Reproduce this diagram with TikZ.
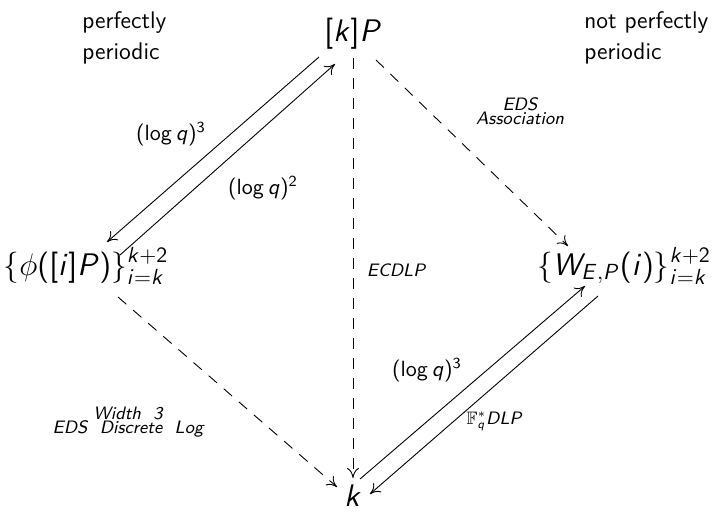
\RequirePackage{fix-cm}
\documentclass[tikz,border=0pt]{standalone}
\usepackage{amssymb}
\usetikzlibrary{arrows.meta}
\renewcommand{\familydefault}{\sfdefault}
\DeclareSymbolFont{sflet}{OT1}{cmss}{m}{sl}
\SetSymbolFont{operators}{normal}{OT1}{cmss}{m}{n}
\DeclareMathSymbol{k}{\mathalpha}{sflet}{`k}
\DeclareMathSymbol{i}{\mathalpha}{sflet}{`i}
\DeclareMathSymbol{q}{\mathalpha}{sflet}{`q}
\DeclareMathSymbol{P}{\mathalpha}{sflet}{`P}
\DeclareMathSymbol{E}{\mathalpha}{sflet}{`E}
\DeclareMathSymbol{W}{\mathalpha}{sflet}{`W}
\tikzset{
  mainnode/.style={inner sep=1pt, font=\fontsize{15.6}{18}\selectfont},
  plaintext/.style={inner sep=1pt, font=\fontsize{12}{14}\selectfont, align=left},
  lbl/.style={inner sep=1pt, font=\fontsize{11}{13}\selectfont},
  itlbl/.style={inner sep=1pt, font=\fontsize{9}{10}\selectfont\slshape, align=center},
  arr/.style={-{To[length=5pt,width=6pt]}, line width=0.45pt},
  darr/.style={arr, dash pattern=on 5.5pt off 4.5pt}
}
\begin{document}
\begin{tikzpicture}[x=0.5pt,y=-0.5pt]
\useasboundingbox (0,0) rectangle (712,516);
% texts
\node[plaintext, anchor=west] (pp1) at (80,22) {perfectly};
\node[plaintext, anchor=west] (pp2) at (80,53) {periodic};
\node[plaintext, anchor=west] (np1) at (582,22) {not perfectly};
\node[plaintext, anchor=west] (np2) at (582,53) {periodic};
% main nodes
\node[mainnode] (kP) at (353,34) {$[k]P$};
\node[mainnode] (L) at (86,266) {$\{\phi([i]P)\}_{i=k}^{k+2}$};
\node[mainnode] (R) at (624,266) {$\{W_{E,P}(i)\}_{i=k}^{k+2}$};
\node[mainnode] (k) at (353,496) {$k$};
% coordinates for arrow ends
\coordinate (a1) at (319,57);
\coordinate (a2) at (107,242);
\coordinate (b1) at (120,255);
\coordinate (b2) at (335,64);
\coordinate (c1) at (360,479);
\coordinate (c2) at (585,286);
\coordinate (d1) at (598,296);
\coordinate (d2) at (370,494);
\coordinate (v1) at (353,58);
\coordinate (v2) at (353,478);
\coordinate (e1) at (376,60);
\coordinate (e2) at (568,246);
\coordinate (f1) at (118,297);
\coordinate (f2) at (337,487);
% arrows
\draw[arr] (a1) -- (a2);
\draw[arr] (b1) -- (b2);
\draw[arr] (c1) -- (c2);
\draw[arr] (d1) -- (d2);
\draw[darr] (v1) -- (v2);
\draw[darr] (e1) -- (e2);
\draw[darr] (f1) -- (f2);
% labels
\node[lbl] (l1) at (171,134) {$(\log q)^3$};
\node[lbl] (l2) at (263,188) {$(\log q)^2$};
\node[lbl] (l3) at (427,370) {$(\log q)^3$};
\node[itlbl] (l4) at (494,421) {$\mathbb{F}_q^*$DLP};
\node[itlbl] (l5) at (396,270) {ECDLP};
\node[itlbl] (l6) at (520,111) {EDS\\[-3pt]Association};
\node[itlbl] (l7) at (128,422) {Width\ \ 3\\[-3pt]EDS\ \ Discrete\ \ Log};
\end{tikzpicture}
\end{document}
